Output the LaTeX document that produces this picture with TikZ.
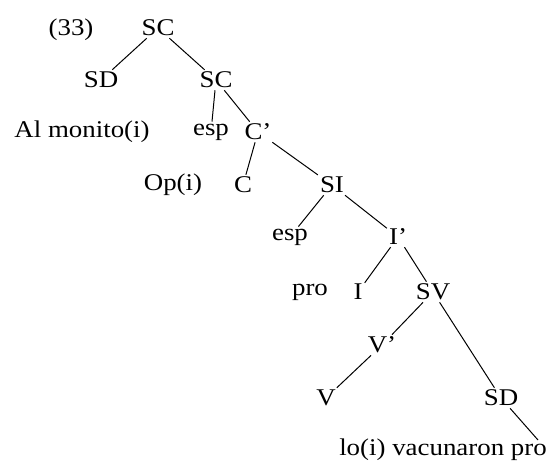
\documentclass[tikz,border=0pt]{standalone}
\usepackage{fontspec}
\setmainfont[FakeStretch=1.12]{Liberation Serif}
\tikzset{
  lab/.style={inner sep=2pt, font=\fontsize{24}{28}\selectfont},
  br/.style={draw=black, line width=1pt}
}
\begin{document}
\begin{tikzpicture}[x=1pt,y=-1pt]
\useasboundingbox (0,0) rectangle (547,461);
\node[lab] (ex) at (71,30) {(33)};
\node[lab] (sc1) at (158,28) {SC};
\node[lab] (sd1) at (101,80) {SD};
\node[lab] (sc2) at (216,80) {SC};
\node[lab] (al) at (82,132) {Al monito(i)};
\node[lab] (esp1) at (211,132) {esp};
\node[lab] (cbar) at (258,132) {C’};
\node[lab] (op) at (173,185) {Op(i)};
\node[lab] (c) at (243,185) {C};
\node[lab] (si) at (332,185) {SI};
\node[lab] (esp2) at (290,237) {esp};
\node[lab] (ibar) at (398,237) {I’};
\node[lab] (pro) at (310,292) {pro};
\node[lab] (i) at (358,292) {I};
\node[lab] (sv) at (433,292) {SV};
\node[lab] (vbar) at (382,345) {V’};
\node[lab] (v) at (326,398) {V};
\node[lab] (sd2) at (501,398) {SD};
\node[lab] (lo) at (443,450) {lo(i) vacunaron pro};
\coordinate (proTop) at (538,440);
\draw[br] (sc1) -- (sd1);
\draw[br] (sc1) -- (sc2);
\draw[br] (sc2) -- (esp1);
\draw[br] (sc2) -- (cbar);
\draw[br] (cbar) -- (c);
\draw[br] (cbar) -- (si);
\draw[br] (si) -- (esp2);
\draw[br] (si) -- (ibar);
\draw[br] (ibar) -- (i);
\draw[br] (ibar) -- (sv);
\draw[br] (sv) -- (vbar);
\draw[br] (vbar) -- (v);
\draw[br] (sv) -- (sd2);
\draw[br] (sd2) -- (proTop);
\end{tikzpicture}
\end{document}
